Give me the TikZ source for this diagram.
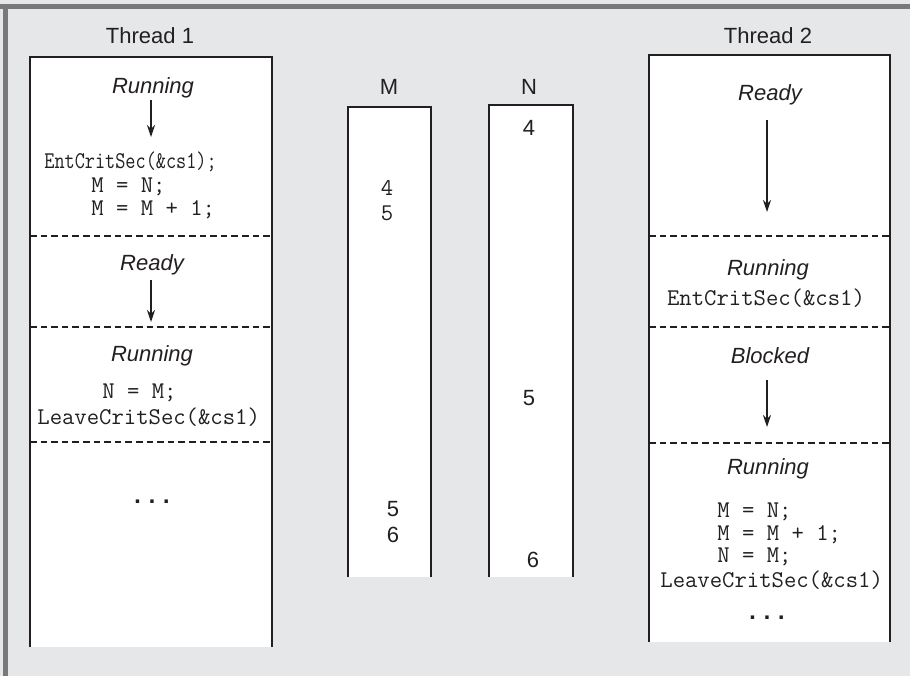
\documentclass[tikz,border=0pt]{standalone}
\usepackage{fontspec}
\setmainfont{Liberation Sans}
\newfontfamily\dotfont{Liberation Mono}
\usetikzlibrary{arrows.meta}
\definecolor{mybg}{RGB}{230,231,232}
\definecolor{myframe}{RGB}{120,121,123}
\definecolor{myink}{RGB}{35,31,32}

\begin{document}
\begin{tikzpicture}[x=0.5pt, y=-0.5pt,
    txt/.style={anchor=base, inner sep=0pt, text=myink, font=\fontsize{11}{13}\selectfont},
    state/.style={txt, font=\fontsize{11}{13}\selectfont\itshape},
    code/.style={anchor=base west, inner sep=0pt, text=myink, font=\fontsize{12}{14}\selectfont\ttfamily},
    val/.style={txt, font=\fontsize{12}{14}\selectfont\ttfamily},
    more/.style={txt, font=\fontsize{12}{14}\selectfont\dotfont\bfseries},
    arr/.style={draw=myink, line width=0.75pt, -{Stealth[length=6pt, width=4pt]}},
    sep/.style={draw=myink, line width=0.75pt, dash pattern=on 3.3pt off 2pt},
    wall/.style={draw=myink, line width=1.15pt}]
    \useasboundingbox (0,0) rectangle (910,676);
    % background and frame
    \fill[mybg] (0,0) rectangle (910,676);
    \fill[myframe] (0,4) rectangle (910,9);
    \fill[myframe] (3,4) rectangle (8,676);

    % Thread 1
    \fill[white] (30,57) rectangle (272,647);
    \draw[wall] (30,647) -- (30,57) -- (272,57) -- (272,647);
    \node[txt] (t1) at (150,43) {Thread 1};
    \node[state] (t1run) at (153,93) {Running};
    \coordinate (t1a) at (151,100);
    \coordinate (t1b) at (151,137);
    \draw[arr] (t1a) -- (t1b);
    \node[code] (t1enter) at (44,168) {\scalebox{0.82}[1]{EntCritSec(\&cs1);}};
    \node[code] (t1load) at (91,192) {M = N;};
    \node[code] (t1inc) at (91,215) {M = M + 1;};
    \draw[sep] (30,236) -- (272,236);
    \node[state] (t1ready) at (152,270) {Ready};
    \coordinate (t1c) at (151,280);
    \coordinate (t1d) at (151,322);
    \draw[arr] (t1c) -- (t1d);
    \draw[sep] (30,327) -- (272,327);
    \node[state] (t1run2) at (152,361) {Running};
    \node[code] (t1store) at (102,398) {N = M;};
    \node[code] (t1leave) at (37,424) {LeaveCritSec(\&cs1)};
    \draw[sep] (30,442) -- (272,442);
    \node[more] (t1more) at (152,503) {...};

    % shared variables
    \fill[white] (348,107) rectangle (431,577);
    \draw[wall] (348,577) -- (348,107) -- (431,107) -- (431,577);
    \node[txt] (m) at (389,94) {M};
    \node[val] (m4) at (387,195) {4};
    \node[val] (m5) at (387,220) {5};
    \node[txt] (m5b) at (393,516) {5};
    \node[txt] (m6) at (393,542) {6};

    \fill[white] (489,105) rectangle (573,577);
    \draw[wall] (489,577) -- (489,105) -- (573,105) -- (573,577);
    \node[txt] (n) at (529,94) {N};
    \node[txt] (n4) at (529,135) {4};
    \node[txt] (n5) at (529,405) {5};
    \node[txt] (n6) at (533,567) {6};

    % Thread 2
    \fill[white] (649,55) rectangle (890,642);
    \draw[wall] (649,642) -- (649,55) -- (890,55) -- (890,642);
    \node[txt] (t2) at (768,43) {Thread 2};
    \node[state] (t2ready) at (770,100) {Ready};
    \coordinate (t2a) at (767,120);
    \coordinate (t2b) at (767,212);
    \draw[arr] (t2a) -- (t2b);
    \draw[sep] (649,236) -- (890,236);
    \node[state] (t2run) at (768,275) {Running};
    \node[val] (t2enter) at (766,305) {EntCritSec(\&cs1)};
    \draw[sep] (649,327) -- (890,327);
    \node[state] (t2block) at (770,363) {Blocked};
    \coordinate (t2c) at (767,380);
    \coordinate (t2d) at (767,427);
    \draw[arr] (t2c) -- (t2d);
    \draw[sep] (649,443) -- (890,443);
    \node[state] (t2run2) at (768,474) {Running};
    \node[code] (t2load) at (717,517) {M = N;};
    \node[code] (t2inc) at (717,540) {M = M + 1;};
    \node[code] (t2store) at (717,562) {N = M;};
    \node[code] (t2leave) at (660,587) {LeaveCritSec(\&cs1)};
    \node[more] (t2more) at (767,619) {...};
\end{tikzpicture}
\end{document}
